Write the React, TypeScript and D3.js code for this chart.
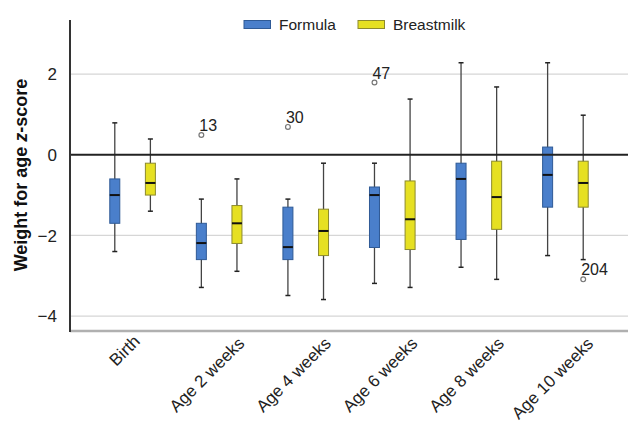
import React from "react";
import * as d3 from "d3";

const categories = ["Birth", "Age 2 weeks", "Age 4 weeks", "Age 6 weeks", "Age 8 weeks", "Age 10 weeks"];
const series = ["Formula", "Breastmilk"];
const yTicks = [-4, -2, 0, 2];

// [whiskerLow, q1, median, q3, whiskerHigh]
const formulaStats = [
  [-2.4, -1.7, -1.0, -0.6, 0.79],
  [-3.29, -2.6, -2.19, -1.7, -1.1],
  [-3.49, -2.6, -2.29, -1.3, -1.1],
  [-3.19, -2.3, -1.0, -0.8, -0.21],
  [-2.79, -2.1, -0.6, -0.21, 2.28],
  [-2.5, -1.3, -0.5, 0.19, 2.28],
];
const breastmilkStats = [
  [-1.4, -1.0, -0.7, -0.21, 0.39],
  [-2.89, -2.2, -1.7, -1.26, -0.6],
  [-3.59, -2.5, -1.89, -1.35, -0.21],
  [-3.29, -2.35, -1.6, -0.65, 1.38],
  [-3.09, -1.85, -1.05, -0.16, 1.68],
  [-2.6, -1.3, -0.7, -0.16, 0.98],
];
// outliers: [categoryIndex, seriesIndex, value, label]
const outliers: [number, number, number, string][] = [
  [1, 0, 0.49, "13"],
  [2, 0, 0.69, "30"],
  [3, 0, 1.79, "47"],
  [5, 1, -3.09, "204"],
];

const colors = ["#4a7fcb", "#e6e022"];
const strokes = ["#2f5a96", "#8c8a2e"];

function measure(s: string, size: number, family: string): number {
  try {
    const ctx = document.createElement("canvas").getContext("2d");
    if (ctx) {
      ctx.font = `${size}px ${family}`;
      return ctx.measureText(s).width;
    }
  } catch (e) {}
  return s.length * size * 0.52;
}

export default function App() {
  const W = 628, H = 421;
  const left = 70, right = 628, top = 20, bottom = 331;
  const y = d3.scaleLinear().domain([-4.37, 3.34]).range([bottom, top]);
  const x = d3.scaleBand().domain(categories).range([left, right]).paddingInner(0).paddingOuter(0.223);
  const xs = d3.scalePoint().domain(series).range([-17.8, 17.8]);
  const bw = 10;
  const statsAll = [formulaStats, breastmilkStats];
  const font = "'Liberation Sans', Arial, sans-serif";

  return (
    <svg width={W} height={H} style={{ position: "absolute", left: 0, top: 0 }} fontFamily={font}>
      <rect width={W} height={H} fill="#fff" />
      {yTicks.filter(t => t !== 0).map(t => (
        <line key={t} x1={left} x2={right} y1={y(t)} y2={y(t)} stroke="#d6d6d6" strokeWidth={1.2} />
      ))}
      {categories.map((c, ci) =>
        series.map((s, si) => {
          const [lo, q1, med, q3, hi] = statsAll[si][ci];
          const cx = (x(c) as number) + x.bandwidth() / 2 + (xs(s) as number);
          return (
            <g key={c + s}>
              <line x1={cx} x2={cx} y1={y(hi)} y2={y(lo)} stroke="#444" strokeWidth={1.3} />
              <line x1={cx - 2.5} x2={cx + 2.5} y1={y(hi)} y2={y(hi)} stroke="#222" strokeWidth={1.5} />
              <line x1={cx - 2.5} x2={cx + 2.5} y1={y(lo)} y2={y(lo)} stroke="#222" strokeWidth={1.5} />
              <rect x={cx - bw / 2} width={bw} y={y(q3)} height={y(q1) - y(q3)} fill={colors[si]} stroke={strokes[si]} strokeWidth={1} />
              <line x1={cx - bw / 2} x2={cx + bw / 2} y1={y(med)} y2={y(med)} stroke="#111" strokeWidth={2} />
            </g>
          );
        })
      )}
      {outliers.map(([ci, si, v, lab]) => {
        const cx = (x(categories[ci]) as number) + x.bandwidth() / 2 + (xs(series[si]) as number);
        return (
          <g key={lab}>
            <circle cx={cx} cy={y(v)} r={2.4} fill="#fff" stroke="#777" strokeWidth={1.2} />
            <text x={cx - 2} y={y(v) - 4} fontSize={16} fill="#222">{lab}</text>
          </g>
        );
      })}
      <line x1={left} x2={right} y1={y(0)} y2={y(0)} stroke="#222" strokeWidth={2} />
      <line x1={left} x2={right} y1={bottom} y2={bottom} stroke="#b0b0b0" strokeWidth={2.5} />
      <line x1={left} x2={left} y1={top} y2={bottom + 1} stroke="#333" strokeWidth={2} />
      {yTicks.map(t => (
        <text key={t} x={57} y={y(t)} dy="0.36em" textAnchor="end" fontSize={17} fill="#222">
          {t < 0 ? "\u2212" + Math.abs(t) : String(t)}
        </text>
      ))}
      {categories.map(c => {
        const cx = (x(c) as number) + x.bandwidth() / 2;
        const L = measure(c, 17, font);
        const ex = cx + 0.285 * L - 1.5;
        const ey = 341 + 0.035 * L;
        return (
          <text key={c} transform={`translate(${ex},${ey}) rotate(-45)`} textAnchor="end" fontSize={17} fill="#222">
            {c}
          </text>
        );
      })}
      <text transform={`translate(27,175) rotate(-90)`} textAnchor="middle" fontSize={18} fontWeight="bold" fill="#111">
        Weight for age <tspan fontStyle="italic">z</tspan>-score
      </text>
      {series.map((s, si) => {
        const lx = si === 0 ? 244 : 358;
        return (
          <g key={s}>
            <rect x={lx} y={20.5} width={26.5} height={8} fill={colors[si]} stroke={strokes[si]} strokeWidth={1} />
            <text x={lx + 35} y={24.5} dy="0.36em" fontSize={15.5} fill="#222">{s}</text>
          </g>
        );
      })}
    </svg>
  );
}
